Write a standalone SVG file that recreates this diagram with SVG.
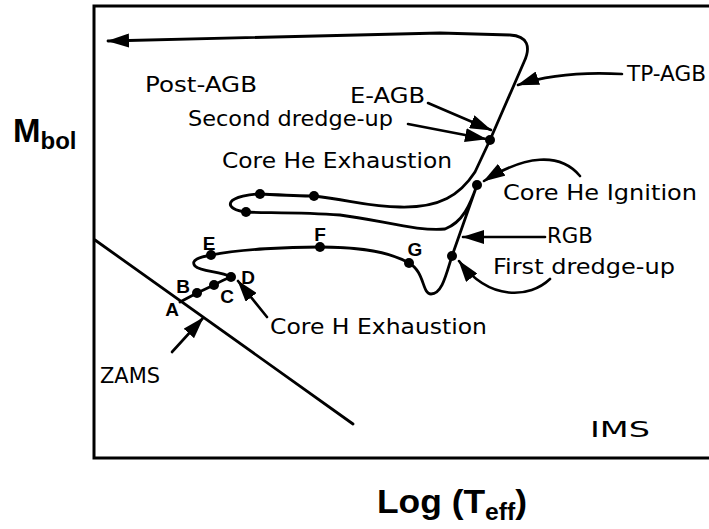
<svg xmlns="http://www.w3.org/2000/svg" width="709" height="529" viewBox="0 0 709 529">
<style>
.ln{fill:none;stroke:#000;stroke-width:2.8;stroke-linecap:round;stroke-linejoin:round}
.ar{fill:none;stroke:#000;stroke-width:2.6;stroke-linecap:round;marker-end:url(#ah)}
.lb{font-family:"DejaVu Sans","Liberation Sans",sans-serif;font-size:21px;fill:#000}
.pt{font-family:"Liberation Sans",Arial,sans-serif;font-weight:bold;font-size:19px;fill:#000;text-anchor:middle}
.ax{font-family:"Liberation Sans",Arial,sans-serif;font-weight:bold;fill:#000}
.dot{fill:#000}
</style>
<defs>
<marker id="ah" viewBox="0 0 22 14" refX="21" refY="7" markerWidth="22" markerHeight="14" markerUnits="userSpaceOnUse" orient="auto">
<path d="M0 0 L22 7 L0 14 z" fill="#000"/>
</marker>
</defs>
<rect width="709" height="529" fill="#fff"/>
<path id="frame" d="M709 6 H94 V458 H709" fill="none" stroke="#000" stroke-width="3"/>
<g id="zams-line"><path class="ln" d="M95 240 L353 424"/></g>
<g id="connectors">
<path id="track" class="ln" style="marker-end:url(#ah)" d="M180 302 L197 293 L214 285 Q225 279 231 277 C220 271 201 272 195 266 C190 260 200 257 211 255 C240 249 290 247 320 247 C360 247 390 252 409 263 C425 272 422 294 431 294 C442 294 446 275 452 256 L477 185 C470 205 463 222 445 229 C420 232 380 220 340 215 C300 212 262 213 246 212 C236 211 228 207 231 202 C234 197 250 194 260 194 C280 195 300 196 314 196 C350 200 370 207 400 207 C440 208 460 195 475 172 L490 140 L524 62 C531 47 528 36 510 35 L440 33 L108 41"/>
<path class="ar" d="M428 103 L491 130"/>
<path class="ar" d="M408 124 L486 139"/>
<path class="ar" d="M622 74 C585 72 550 74 518 85"/>
<path class="ar" d="M580 176 C560 152 525 155 484 181"/>
<path class="ar" d="M545 237 L463 237"/>
<path class="ar" d="M550 279 C530 298 490 302 459 261"/>
<path class="ar" d="M267 317 L238 281"/>
<path class="ar" d="M172 352 L203 318"/>
</g>
<g id="dots">
<circle class="dot" cx="197" cy="293" r="5"/>
<circle class="dot" cx="214" cy="285" r="5"/>
<circle class="dot" cx="231" cy="277" r="5"/>
<circle class="dot" cx="211" cy="255" r="5"/>
<circle class="dot" cx="320" cy="247" r="5"/>
<circle class="dot" cx="409" cy="263" r="5"/>
<circle class="dot" cx="452" cy="256" r="5"/>
<circle class="dot" cx="477" cy="185" r="5"/>
<circle class="dot" cx="490" cy="140" r="5"/>
<circle class="dot" cx="260" cy="194" r="5"/>
<circle class="dot" cx="314" cy="196" r="5"/>
<circle class="dot" cx="246" cy="212" r="5"/>
</g>
<g id="point-labels">
<text class="pt" x="172" y="316">A</text>
<text class="pt" x="183" y="293">B</text>
<text class="pt" x="227" y="303">C</text>
<text class="pt" x="248" y="284">D</text>
<text class="pt" x="209" y="250">E</text>
<text class="pt" x="320" y="241">F</text>
<text class="pt" x="415" y="256">G</text>
</g>
<g id="labels">
<text id="post-agb" class="lb" x="145" y="92" textLength="112" lengthAdjust="spacingAndGlyphs">Post-AGB</text>
<text id="tp-agb" class="lb" x="627" y="81" textLength="79" lengthAdjust="spacingAndGlyphs">TP-AGB</text>
<text id="e-agb" class="lb" x="350" y="103" textLength="75" lengthAdjust="spacingAndGlyphs">E-AGB</text>
<text id="second" class="lb" x="188" y="126" textLength="205" lengthAdjust="spacingAndGlyphs">Second dredge-up</text>
<text id="che-exh" class="lb" x="222" y="168" textLength="230" lengthAdjust="spacingAndGlyphs">Core He Exhaustion</text>
<text id="che-ign" class="lb" x="503" y="200" textLength="194" lengthAdjust="spacingAndGlyphs">Core He Ignition</text>
<text id="rgb" class="lb" x="547" y="243" textLength="46" lengthAdjust="spacingAndGlyphs">RGB</text>
<text id="first" class="lb" x="493" y="274" textLength="182" lengthAdjust="spacingAndGlyphs">First dredge-up</text>
<text id="ch-exh" class="lb" x="270" y="334" textLength="217" lengthAdjust="spacingAndGlyphs">Core H Exhaustion</text>
<text id="zams" class="lb" x="100" y="383" textLength="60" lengthAdjust="spacingAndGlyphs">ZAMS</text>
<text id="ims" class="lb" x="590" y="437" textLength="60" lengthAdjust="spacingAndGlyphs">IMS</text>
</g>
<g id="axes">
<text class="ax" x="13" y="142" font-size="33">M<tspan font-size="24" dy="7">bol</tspan></text>
<text class="ax" x="377" y="513" font-size="33" textLength="150" lengthAdjust="spacingAndGlyphs">Log (T<tspan font-size="23" dy="7">eff</tspan><tspan dy="-7">)</tspan></text>
</g>
</svg>
